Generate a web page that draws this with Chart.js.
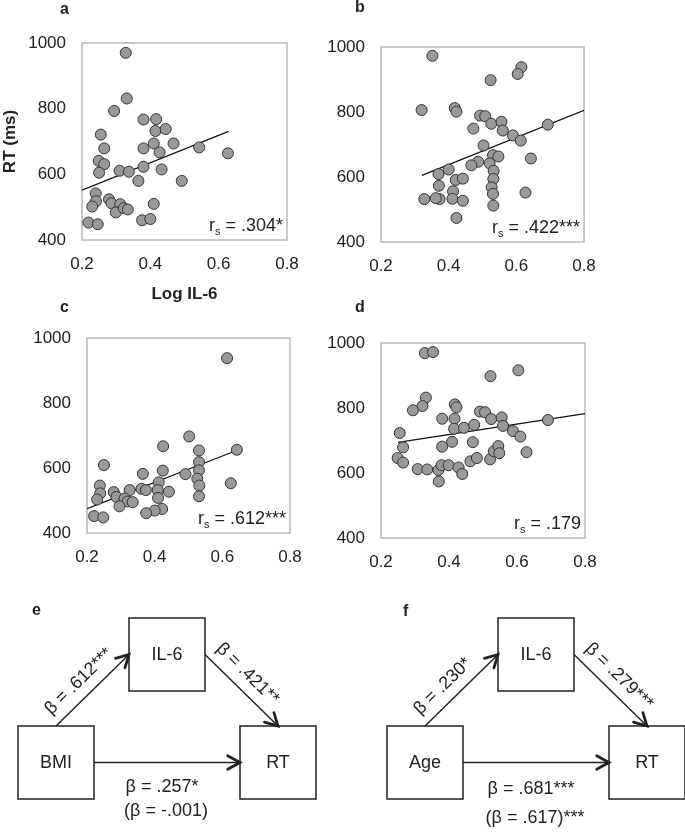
<!DOCTYPE html>
<html>
<head>
<meta charset="utf-8">
<script src="https://cdn.jsdelivr.net/npm/chart.js@4.4.1/dist/chart.umd.min.js"></script>
<style>
  body { margin: 0; background: #fff; width: 685px; height: 834px; overflow: hidden; position: relative; }
  canvas { position: absolute; }
  .tag { position: absolute; font: bold 16px 'Liberation Sans', Arial, sans-serif; line-height: 16px; color: #222; }
</style>
</head>
<body>
<canvas id="chartA" width="300" height="310" style="left:0;top:0"></canvas>
<canvas id="chartB" width="370" height="300" style="left:315px;top:0"></canvas>
<canvas id="chartC" width="320" height="280" style="left:0;top:300px"></canvas>
<canvas id="chartD" width="370" height="280" style="left:315px;top:300px"></canvas>
<canvas id="chartE" width="342" height="254" style="left:0;top:580px"></canvas>
<canvas id="chartF" width="343" height="254" style="left:342px;top:580px"></canvas>
<span class="tag" style="left:60px;top:1px">a</span>
<span class="tag" style="left:355px;top:-1px">b</span>
<span class="tag" style="left:60px;top:299px">c</span>
<span class="tag" style="left:355px;top:299px">d</span>
<span class="tag" style="left:32px;top:602px">e</span>
<span class="tag" style="left:403px;top:603px">f</span>
<script>
// Scatter data (Log IL-6 vs RT in ms)
const ilA = [0.328, 0.331, 0.294, 0.255, 0.265, 0.249, 0.265, 0.250, 0.310, 0.337, 0.365, 0.380, 0.380, 0.380, 0.417, 0.415, 0.445, 0.410, 0.427, 0.468, 0.433, 0.492, 0.543, 0.627, 0.240, 0.241, 0.230, 0.219, 0.246, 0.279, 0.286, 0.312, 0.299, 0.322, 0.334, 0.376, 0.400, 0.410];
const rtA = [970, 831, 793, 721, 679, 641, 631, 605, 611, 608, 580, 623, 679, 767, 768, 732, 738, 694, 667, 694, 615, 580, 682, 664, 542, 518, 502, 453, 448, 524, 512, 509, 484, 497, 493, 460, 464, 510];

const ilB = [0.352, 0.320, 0.524, 0.615, 0.604, 0.418, 0.423, 0.493, 0.508, 0.526, 0.556, 0.560, 0.590, 0.613, 0.693, 0.473, 0.503, 0.531, 0.547, 0.643, 0.521, 0.533, 0.532, 0.527, 0.531, 0.532, 0.627, 0.487, 0.467, 0.400, 0.370, 0.371, 0.421, 0.442, 0.413, 0.411, 0.442, 0.373, 0.362, 0.328, 0.423];
const rtB = [973, 806, 898, 938, 917, 812, 801, 789, 787, 764, 770, 743, 728, 712, 761, 749, 697, 667, 663, 657, 642, 619, 594, 568, 548, 512, 552, 647, 636, 623, 609, 573, 591, 595, 556, 533, 527, 532, 535, 532, 474];

const ilC = [0.614, 0.502, 0.425, 0.643, 0.531, 0.531, 0.531, 0.526, 0.532, 0.531, 0.625, 0.491, 0.424, 0.412, 0.409, 0.442, 0.410, 0.422, 0.400, 0.375, 0.365, 0.361, 0.374, 0.326, 0.250, 0.238, 0.239, 0.230, 0.279, 0.287, 0.311, 0.320, 0.335, 0.296, 0.221, 0.248];
const rtC = [938, 697, 667, 656, 654, 618, 593, 567, 546, 513, 553, 581, 592, 556, 532, 527, 508, 474, 469, 461, 582, 536, 532, 532, 609, 546, 522, 503, 526, 511, 506, 497, 495, 482, 452, 448];

const ilD = [0.329, 0.353, 0.522, 0.604, 0.332, 0.322, 0.294, 0.417, 0.422, 0.491, 0.506, 0.524, 0.555, 0.559, 0.588, 0.610, 0.691, 0.380, 0.416, 0.415, 0.444, 0.474, 0.255, 0.265, 0.249, 0.265, 0.308, 0.336, 0.369, 0.378, 0.399, 0.370, 0.380, 0.409, 0.470, 0.428, 0.439, 0.463, 0.482, 0.521, 0.532, 0.545, 0.548, 0.628];
const rtD = [969, 972, 898, 916, 832, 806, 793, 811, 802, 789, 787, 766, 771, 745, 729, 712, 763, 767, 767, 736, 739, 748, 723, 679, 646, 632, 612, 611, 609, 624, 624, 574, 681, 696, 695, 617, 597, 636, 646, 642, 667, 683, 661, 664];

// regression lines: [x start, x end], [y start, y end]
const fitXA = [0.2, 0.629], fitYA = [552, 731];
const fitXB = [0.321, 0.8], fitYB = [605, 805];
const fitXC = [0.2, 0.642], fitYC = [475, 654];
const fitXD = [0.25, 0.8], fitYD = [694, 783];

const rsValues = ['.304*', '.422***', '.612***', '.179'];

// path diagrams
const nodesE = ['IL-6', 'BMI', 'RT'];
const betasE = ['β = .612***', 'β = .421**', 'β = .257*', '(β = -.001)'];
const nodesF = ['IL-6', 'Age', 'RT'];
const betasF = ['β = .230*', 'β = .279***', 'β = .681***', '(β = .617)***'];

const FONT = "'Liberation Sans', Arial, sans-serif";
const INK = '#222';

function pairs(xs, ys) {
    return xs.map((x, i) => ({ x: x, y: ys[i] }));
}

// grey frame round the plot area + the r_s note in the corner
const frameAndNote = {
    id: 'frameAndNote',
    beforeDatasetsDraw(chart) {
        const { ctx, chartArea: a } = chart;
        ctx.save();
        ctx.strokeStyle = '#b8b8b8';
        ctx.lineWidth = 1.5;
        ctx.strokeRect(a.left, a.top, a.right - a.left, a.bottom - a.top);
        ctx.restore();
    },
    afterDatasetsDraw(chart, args, opts) {
        if (!opts.rs) return;
        const { ctx, chartArea: a } = chart;
        const rest = ' = ' + opts.rs;
        ctx.save();
        ctx.fillStyle = INK;
        ctx.textAlign = 'left';
        ctx.textBaseline = 'alphabetic';
        ctx.font = '18px ' + FONT;
        const wr = ctx.measureText('r').width;
        const wRest = ctx.measureText(rest).width;
        ctx.font = '11px ' + FONT;
        const ws = ctx.measureText('s').width;
        let x = a.right - 4 - (wr + ws + wRest);
        const y = a.bottom - 9;
        ctx.font = '18px ' + FONT;
        ctx.fillText('r', x, y);
        x += wr;
        ctx.font = '11px ' + FONT;
        ctx.fillText('s', x, y + 4);
        x += ws;
        ctx.font = '18px ' + FONT;
        ctx.fillText(rest, x, y);
        ctx.restore();
    }
};

function makeScatter(id, xs, ys, fx, fy, rs, box) {
    new Chart(document.getElementById(id).getContext('2d'), {
        type: 'scatter',
        data: {
            datasets: [{
                data: pairs(xs, ys),
                pointRadius: 5.5,
                pointBackgroundColor: '#999999',
                pointBorderColor: '#333333',
                pointBorderWidth: 1,
                order: 0
            }, {
                data: pairs(fx, fy),
                showLine: true,
                borderColor: '#111',
                borderWidth: 1.2,
                pointRadius: 0,
                order: 1
            }]
        },
        options: {
            responsive: false,
            animation: false,
            devicePixelRatio: 1,
            layout: { autoPadding: false, padding: { top: box.top, right: box.right, left: 0, bottom: 0 } },
            plugins: {
                legend: { display: false },
                tooltip: { enabled: false },
                frameAndNote: { rs: rs }
            },
            scales: {
                x: {
                    type: 'linear',
                    min: 0.2, max: 0.8,
                    grid: { display: false, drawTicks: false },
                    border: { display: false },
                    ticks: { stepSize: 0.2, padding: 14, color: INK, font: { family: FONT, size: 17 },
                        callback: v => v.toFixed(1) },
                    title: { display: !!box.xTitle, text: box.xTitle || '', color: INK,
                        font: { family: FONT, size: 17, weight: 'bold' }, padding: { top: 0, bottom: 5 } },
                    afterFit: s => {
                        s.height = box.xh;
                        s.paddingLeft = 0;
                        s.paddingRight = 0;
                    }
                },
                y: {
                    min: 400, max: 1000,
                    grid: { display: false, drawTicks: false },
                    border: { display: false },
                    ticks: { stepSize: 200, padding: 16, color: INK, font: { family: FONT, size: 17 },
                        callback: v => String(v) },
                    title: { display: !!box.yTitle, text: box.yTitle || '', color: INK,
                        font: { family: FONT, size: 17, weight: 'bold' }, padding: { top: 0, bottom: 0 } },
                    afterFit: s => {
                        s.width = box.yw;
                        s.paddingTop = 0;
                        s.paddingBottom = 0;
                    }
                }
            }
        },
        plugins: [frameAndNote]
    });
}

makeScatter('chartA', ilA, rtA, fitXA, fitYA, rsValues[0], { top: 43, right: 13, xh: 70, yw: 82, xTitle: 'Log IL-6', yTitle: 'RT (ms)' });
makeScatter('chartB', ilB, rtB, fitXB, fitYB, rsValues[1], { top: 47, right: 101, xh: 58, yw: 66 });
makeScatter('chartC', ilC, rtC, fitXC, fitYC, rsValues[2], { top: 38, right: 30, xh: 47, yw: 87 });
makeScatter('chartD', ilD, rtD, fitXD, fitYD, rsValues[3], { top: 43, right: 100, xh: 42, yw: 66 });

// Mediation diagrams, drawn on hidden axes in canvas units
const boxSize = [76, 73];

const pathDiagram = {
    id: 'pathDiagram',
    afterDraw(chart, args, o) {
        const { ctx } = chart;
        const X = v => chart.scales.x.getPixelForValue(v);
        const Y = v => chart.scales.y.getPixelForValue(v);
        const boxes = o.pos.map(p => {
            const l = X(p[0]), t = Y(p[1]), r = X(p[0] + boxSize[0]), b = Y(p[1] + boxSize[1]);
            return { l, t, r, b, cx: (l + r) / 2, cy: (t + b) / 2 };
        });
        const [m, p, out] = boxes;
        ctx.save();
        ctx.strokeStyle = INK;
        ctx.fillStyle = INK;

        // boxes and their names
        ctx.lineWidth = 1.5;
        ctx.font = '18px ' + FONT;
        ctx.textAlign = 'center';
        ctx.textBaseline = 'middle';
        boxes.forEach((bx, i) => {
            ctx.strokeRect(bx.l, bx.t, bx.r - bx.l, bx.b - bx.t);
            ctx.fillText(o.names[i], bx.cx, bx.cy + 1);
        });

        const arrows = [
            [p.cx, p.t, m.l, m.cy],
            [m.r, m.cy, out.cx, out.t],
            [p.r, p.cy, out.l, out.cy]
        ];
        arrows.forEach((ar, i) => {
            const [x1, y1, x2, y2] = ar;
            const ang = Math.atan2(y2 - y1, x2 - x1);
            ctx.lineWidth = 1.5;
            ctx.beginPath();
            ctx.moveTo(x1, y1);
            ctx.lineTo(x2, y2);
            ctx.stroke();
            // open chevron head
            ctx.lineWidth = 2.8;
            ctx.lineCap = 'round';
            ctx.beginPath();
            ctx.moveTo(x2 - 14 * Math.cos(ang - 0.5), y2 - 14 * Math.sin(ang - 0.5));
            ctx.lineTo(x2, y2);
            ctx.lineTo(x2 - 14 * Math.cos(ang + 0.5), y2 - 14 * Math.sin(ang + 0.5));
            ctx.stroke();
            ctx.lineCap = 'butt';

            if (i < 2) {
                // slanted label along the arrow
                const ux = Math.cos(ang), uy = Math.sin(ang);
                const nx = uy, ny = -ux;
                ctx.save();
                ctx.translate(x1 + ux * 4 + nx * 16, y1 + uy * 4 + ny * 16);
                ctx.rotate(ang);
                ctx.textAlign = 'left';
                ctx.fillText(o.betas[i], 0, 0);
                ctx.restore();
            } else {
                const mid = (x1 + x2) / 2 - 5;
                ctx.textAlign = 'center';
                ctx.fillText(o.betas[2], mid, Y(o.lowY[0]));
                ctx.fillText(o.betas[3], mid + 4, Y(o.lowY[1]));
            }
        });
        ctx.restore();
    }
};

function makeDiagram(id, names, betas, pos, lowY) {
    const cv = document.getElementById(id);
    new Chart(cv.getContext('2d'), {
        type: 'scatter',
        data: { datasets: [] },
        options: {
            responsive: false,
            animation: false,
            devicePixelRatio: 1,
            layout: { autoPadding: false, padding: 0 },
            plugins: {
                legend: { display: false },
                tooltip: { enabled: false },
                pathDiagram: { names: names, betas: betas, pos: pos, lowY: lowY }
            },
            scales: {
                x: { display: false, min: 0, max: cv.width },
                y: { display: false, min: 0, max: cv.height, reverse: true }
            }
        },
        plugins: [pathDiagram]
    });
}

makeDiagram('chartE', nodesE, betasE, [[129, 38], [18, 146], [240, 146]], [207, 231]);
makeDiagram('chartF', nodesF, betasF, [[156, 38], [45, 146], [267, 146]], [209, 238]);
</script>
</body>
</html>
